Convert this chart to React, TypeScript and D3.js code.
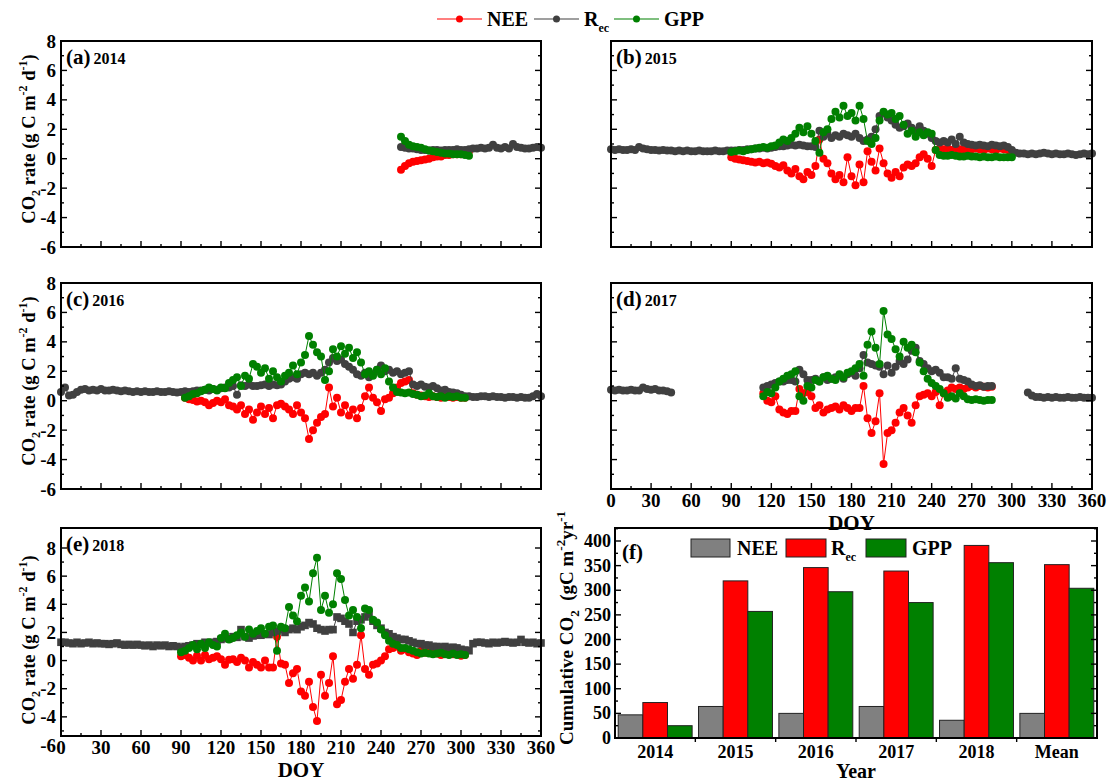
import React from 'react';
import * as d3 from 'd3';

const FONT = '"Liberation Serif", "Times New Roman", serif';
const RED = '#ff0000';
const GRAY = '#404040';
const GREEN = '#008000';
const STEP = 3; // days between plotted points

// ---- daily CO2 rates, one value every 3 DOY from the start DOY (null = no data)
const rec2014Start = 255;
const rec2014 = [
  0.8, 0.75, 0.7, 0.7, 0.65, 0.6, 0.6, 0.55, 0.6, 0.6,
  0.55, 0.6, 0.6, 0.6, 0.65, 0.6, 0.6, 0.65, 0.7, 0.7,
  0.75, 0.7, 0.75, 0.95, 0.75, 0.7, 0.8, 0.7, 1.0, 0.8,
  0.75, 0.7, 0.7, 0.75, 0.8, 0.75,
];
const gpp2014Start = 255;
const gpp2014 = [1.5, 1.2, 0.95, 0.85, 0.8, 0.75, 0.65, 0.55, 0.5, 0.45, 0.4, 0.35, 0.35, 0.3, 0.3, 0.3, 0.25, 0.2];
const nee2014Start = 255;
const nee2014 = [-0.75, -0.5, -0.3, -0.2, -0.15, -0.1, -0.05, 0.0, 0.1, 0.15, 0.15, 0.25, 0.25, 0.3, 0.3, 0.3, 0.35, 0.5];

const rec2015Start = 0;
const rec2015 = [
  0.65, 0.6, 0.65, 0.6, 0.6, 0.65, 0.6, 0.8, 0.7, 0.65,
  0.6, 0.6, 0.55, 0.6, 0.55, 0.55, 0.5, 0.55, 0.5, 0.55,
  0.5, 0.5, 0.55, 0.5, 0.5, 0.5, 0.55, 0.5, 0.5, 0.55,
  0.55, 0.55, 0.6, 0.6, 0.65, 0.65, 0.7, 0.7, 0.75, 0.7,
  0.75, 0.8, 0.85, 0.85, 0.9, 0.95, 0.9, 0.95, 0.9, 0.85,
  0.85, 0.8, 1.9, 1.5, 1.7, 1.4, 1.6, 1.5, 1.7, 1.6,
  1.5, 1.7, 1.4, 1.2, 1.3, 1.5, 2.0, 2.9, 3.1, 2.8,
  2.6, 2.3, 2.1, 2.2, 2.4, 2.1, 1.9, 2.2, 1.9, 1.7,
  1.4, 1.2, 1.1, 1.2, 1.1, 1.3, 1.0, 1.5, 1.1, 1.0,
  0.95, 0.9, 0.95, 0.9, 0.85, 0.95, 0.9, 0.85, 0.9, 0.8,
  0.6, 0.4, 0.35, 0.35, 0.3, 0.35, 0.3, 0.35, 0.4, 0.35,
  0.3, 0.35, 0.3, 0.3, 0.35, 0.3, 0.25, 0.3, 0.35, 0.3,
  0.35,
];
const gpp2015Start = 90;
const gpp2015 = [
  0.45, 0.5, 0.55, 0.5, 0.6, 0.65, 0.7, 0.75, 0.8, 0.75,
  0.85, 0.9, 1.1, 1.3, 1.2, 1.4, 1.7, 2.1, 1.8, 2.2,
  1.7, 1.2, 0.4, 1.8, 2.0, 2.7, 3.2, 2.8, 3.6, 2.9,
  3.1, 2.6, 3.6, 2.7, 1.2, 1.0, 1.4, 2.6, 3.2, 3.0,
  3.1, 2.7, 2.9, 2.3, 1.7, 1.9, 1.5, 1.8, 1.6, 1.8,
  1.7, 0.6, 0.25, 0.2, 0.2, 0.25, 0.2, 0.15, 0.15, 0.2,
  0.15, 0.15, 0.1, 0.15, 0.1, 0.1, 0.15, 0.1, 0.1, 0.1,
  0.1,
];
const nee2015Start = 90;
const nee2015 = [
  0.1, 0.0, -0.05, -0.1, -0.15, -0.2, -0.25, -0.2, -0.3, -0.25,
  -0.35, -0.5, -0.6, -0.45, -0.8, -1.0, -0.7, -1.2, -1.4, -0.9,
  -1.1, -0.5, 1.3, 0.0, -0.3, -1.0, -1.4, -1.1, -1.6, 0.1,
  -1.2, -1.8, -0.4, -1.6, 0.5, -0.2, -0.8, 0.7, -0.3, -1.0,
  -1.3, -0.9, -1.2, -0.6, -0.4, -0.5, -0.3, 0.1, 0.3, 0.0,
  -0.5, 0.6, 0.7, 0.65, 0.7, 0.6, 0.7, 0.65, 0.6, 0.7,
  0.65, 0.7, 0.65, 0.6, 0.7, 0.65, 0.6, 0.7, 0.65, 0.6,
  0.45,
];

const rec2016Start = 0;
const rec2016 = [
  0.6, 0.9, 0.35, 0.4, 0.6, 0.75, 0.8, 0.7, 0.75, 0.7,
  0.8, 0.7, 0.7, 0.75, 0.7, 0.65, 0.7, 0.65, 0.6, 0.65,
  0.6, 0.65, 0.6, 0.6, 0.65, 0.6, 0.6, 0.65, 0.6, 0.55,
  0.6, 0.65, 0.6, 0.65, 0.7, 0.7, 0.75, 0.7, 0.8, 0.75,
  0.85, 0.9, 0.9, 1.0, 0.4, 1.05, 1.0, 1.1, 1.0, 1.0,
  1.05, 1.1, 1.0, 1.1, 1.05, 1.1, 1.3, 1.5, 1.6, 1.5,
  1.8, 1.9, 1.8, 1.9, 1.7, 1.9, 2.1, 2.6, 2.9, 2.7,
  2.8, 2.5, 2.3, 2.1, 1.8, 1.7, 1.9, 1.6, 1.8, 2.1,
  2.4, 2.0, 2.1, 1.9, 2.0, 1.8, 1.9, 2.0, 1.1, 1.0,
  1.1, 0.95, 0.9, 1.0, 0.85, 0.7, 0.75, 0.6, 0.55, 0.5,
  0.4, 0.3, 0.3, 0.25, 0.25, 0.3, 0.3, 0.25, 0.3, 0.25,
  0.25, 0.2, 0.25, 0.25, 0.2, 0.25, 0.2, 0.2, 0.3, 0.45,
  0.3,
];
const gpp2016Start = 93;
const gpp2016 = [
  0.2, 0.3, 0.45, 0.5, 0.65, 0.75, 0.9, 0.8, 0.7,
  0.9, 0.85, 1.2, 1.4, 1.6, 1.0, 1.7, 1.5, 2.5, 2.3,
  1.9, 2.2, 1.5, 2.0, 1.6, 1.3, 1.7, 1.9, 2.4, 1.8,
  2.6, 3.1, 4.4, 3.8, 3.3, 3.0, 1.4, 2.0, 3.5, 3.0,
  3.7, 3.2, 3.6, 2.9, 3.3, 2.6, 1.8, 2.0, 1.7, 2.1,
  1.8, 2.2, 1.3, 0.9, 0.6, 0.55, 0.5, 0.55, 0.45, 0.4,
  0.3, 0.35, 0.5, 0.3, 0.25, 0.3, 0.2, 0.3, 0.25, 0.3,
  0.2, 0.2,
];
const nee2016Start = 93;
const nee2016 = [
  0.2, 0.1, 0.05, -0.05, 0.0, -0.1, -0.3, -0.15, 0.0,
  -0.1, 0.1, -0.3, -0.4, -0.6, -0.3, -0.9, -0.6, -1.3, -0.8,
  -0.4, -0.9, -0.5, -1.2, -0.3, -0.2, -0.4, -0.6, -0.9, -0.3,
  -0.8, -1.2, -2.6, -2.0, -1.5, -1.1, -0.9, 0.9, -0.4, 0.2,
  -0.8, -0.3, -1.0, -0.6, -1.2, -0.5, 0.3, 0.9, 0.2, -0.1,
  -0.7, 0.1, 0.2, 0.5, 0.9, 1.2, 1.3, 1.4, 0.5, 0.4,
  0.35, 0.3, 0.25, 0.3, 0.25, 0.2, 0.3, 0.25, 0.2, 0.25,
  0.2, 0.2,
];

const rec2017Start = 0;
const rec2017 = [
  0.75, 0.7, 0.75, 0.7, 0.7, 0.75, 0.7, 0.7, 0.9, 0.8,
  0.75, 0.8, 0.7, 0.7, 0.65, 0.55, null, null, null, null,
  null, null, null, null, null, null, null, null, null, null,
  null, null, null, null, null, null, null, null, 0.9, 1.0,
  1.1, 1.2, 1.3, 1.3, 1.4, 1.4, 1.3, 2.1, 1.8, 1.4,
  1.4, 1.5, 1.3, 1.6, 1.4, 1.5, 1.6, 1.7, 1.5, 1.8,
  1.9, 1.7, 2.2, 3.1, 2.6, 2.5, 2.4, 2.3, 1.8, 2.4,
  1.9, 2.3, 2.7, 2.5, 2.8, 3.4, 3.6, 2.7, 2.5, 2.2,
  2.0, 2.1, 1.9, 1.6, 1.6, 1.5, 2.2, 1.5, 1.4, 1.3,
  1.1, 1.0, 1.05, 0.95, 1.0, 1.0, null, null, null, null,
  null, null, null, null, 0.55, 0.35, 0.25, 0.25, 0.2, 0.25,
  0.2, 0.25, 0.2, 0.2, 0.25, 0.2, 0.2, 0.25, 0.2, 0.2,
  0.2,
];
const gpp2017Start = 114;
const gpp2017 = [
  0.3, 0.6,
  0.5, 0.9, 1.3, 1.5, 1.7, 1.8, 2.0, 0.3, 0.0, 1.0,
  0.9, 1.4, 1.3, 1.6, 1.7, 1.5, 1.4, 1.8, 1.6, 1.9,
  2.0, 2.2, 2.5, 1.7, 3.8, 4.7, 3.6, 2.5, 6.1, 4.5,
  4.2, 3.5, 3.0, 4.0, 3.6, 3.8, 3.3, 2.6, 2.0, 1.5,
  1.2, 1.0, 0.8, 0.5, 0.2, 0.3, 0.15, 0.5, 0.3, 0.1,
  0.05, 0.1, 0.05, 0.0, 0.05, 0.05,
];
const nee2017Start = 114;
const nee2017 = [
  0.5, 0.0,
  -0.1, 0.3, -0.6, -0.8, -0.9, -0.7, -0.7, 0.8, 0.5, 0.6,
  0.3, -0.5, -0.3, -0.8, -0.6, -0.5, -0.4, -0.6, -0.3, -0.5,
  -0.7, -0.5, -0.5, 1.0, -1.2, -2.2, -1.4, 0.5, -4.3, -2.2,
  -2.0, -1.5, -0.8, -0.5, -1.0, -1.5, -0.3, 0.3, 0.4, 0.5,
  0.3, 0.6, -0.3, 0.5, 0.7, 0.9, 0.8, 0.9, 0.8, 0.9,
  1.0, 0.9, 1.0, 0.95, 0.9, 0.95,
];

const rec2018Start = 0;
const rec2018 = [
  1.3, 1.3, 1.25, 1.2, 1.3, 1.2, 1.25, 1.3, 1.2, 1.25,
  1.2, 1.2, 1.15, 1.2, 1.25, 1.15, 1.1, 1.15, 1.1, 1.15,
  1.1, 1.05, 1.1, 1.0, 1.1, 1.05, 1.1, 1.0, 1.05, 1.0,
  0.9, 1.0, 1.05, 1.1, 1.2, 1.15, 1.3, 1.25, 1.3, 1.35,
  1.5, 1.6, 1.55, 1.7, 1.65, 2.2, 1.7, 1.6, 1.75, 1.8,
  1.8, 1.9, 1.85, 2.0, 2.1, 2.2, 2.0, 2.2, 2.3, 2.2,
  2.4, 2.5, 2.7, 2.6, 2.3, 2.2, 2.1, 2.2, 2.2, 3.1,
  3.0, 2.8, 2.6, 2.0, 2.8, 2.9, 3.1, 3.3, 2.8, 2.5,
  2.3, 2.0, 1.9, 1.7, 1.6, 1.5, 1.5, 1.4, 1.3, 1.2,
  1.2, 1.1, 1.1, 1.0, 1.0, 0.95, 1.0, 0.9, 0.95, 0.9,
  0.8, 0.75, 0.7, 1.2, 1.3, 1.3, 1.25, 1.2, 1.3, 1.25,
  1.3, 1.35, 1.3, 1.25, 1.3, 1.5, 1.3, 1.25, 1.3, 1.2,
  1.25,
];
const gpp2018Start = 90;
const gpp2018 = [
  0.6, 0.7, 0.9, 1.1, 0.8, 1.2, 0.9, 1.3, 1.1, 1.0,
  1.6, 1.9, 1.5, 1.6, 1.8, 2.0, 1.7, 2.2, 1.9, 2.1,
  2.3, 1.9, 2.4, 2.5, 0.7, 2.4, 2.3, 3.8, 3.2, 2.8,
  4.6, 5.2, 4.2, 6.2, 7.3, 3.6, 4.6, 3.4, 4.0, 6.2,
  5.8, 4.3, 3.2, 3.6, 3.1, 2.3, 3.7, 3.6, 2.9, 2.7,
  2.2, 1.8, 1.4, 1.2, 1.1, 0.9, 0.9, 0.8, 0.7, 0.6,
  0.5, 0.55, 0.5, 0.45, 0.5, 0.55, 0.45, 0.4, 0.5, 0.4,
  0.45, 0.4,
];
const nee2018Start = 90;
const nee2018 = [
  0.3, 0.4, 0.2, 0.0, 0.35, 0.0, 0.4, 0.1, 0.2, 0.3,
  0.1, -0.3, 0.05, 0.1, -0.1, 0.2, 0.0, -0.5, -0.1, -0.3,
  -0.5, 0.0, -0.5, -0.5, 1.7, -0.2, -0.3, -1.6, -0.9, -0.6,
  -2.2, -2.5, -1.5, -3.3, -4.3, -1.0, -2.5, -1.6, 0.3, -3.1,
  -2.8, -1.5, -0.6, -1.3, -0.3, 1.8, -0.6, -1.0, -0.3, -0.2,
  0.0, 0.3, 0.8, 0.9, 1.0, 0.7, 0.8, 0.6, 0.5, 0.4,
  0.7, 0.55, 0.6, 0.55, 0.5, 0.4, 0.55, 0.5, 0.45, 0.5,
  0.35, 0.4,
];

// ---- cumulative annual CO2 (gC m-2 yr-1)
const yearCats = ['2014', '2015', '2016', '2017', '2018', 'Mean'];
const cumNEE = [47, 64, 50, 64, 36, 50];
const cumRec = [72, 319, 346, 339, 391, 352];
const cumGPP = [25, 257, 297, 275, 356, 304];

const rateTicks = [-6, -4, -2, 0, 2, 4, 6, 8];
const doyTicks = [0, 30, 60, 90, 120, 150, 180, 210, 240, 270, 300, 330, 360];
const cumTicks = [0, 50, 100, 150, 200, 250, 300, 350, 400];

type Pt = { doy: number; v: number | null };
const toPts = (start: number, vals: (number | null)[]): Pt[] =>
  vals.map((v, i) => ({ doy: start + i * STEP, v }));

const panels = [
  { id: 'a', year: '2014', box: [61, 541, 41, 247], yr: [247, 41], yLab: true, xLab: false, titleY: 139,
    nee: toPts(nee2014Start, nee2014), rec: toPts(rec2014Start, rec2014), gpp: toPts(gpp2014Start, gpp2014) },
  { id: 'b', year: '2015', box: [611, 1092, 41, 247], yr: [247, 41], yLab: false, xLab: false,
    nee: toPts(nee2015Start, nee2015), rec: toPts(rec2015Start, rec2015), gpp: toPts(gpp2015Start, gpp2015) },
  { id: 'c', year: '2016', box: [61, 541, 283, 489], yr: [489, 283], yLab: true, xLab: false, titleY: 381,
    nee: toPts(nee2016Start, nee2016), rec: toPts(rec2016Start, rec2016), gpp: toPts(gpp2016Start, gpp2016) },
  { id: 'd', year: '2017', box: [611, 1092, 283, 489], yr: [489, 283], yLab: false, xLab: true,
    nee: toPts(nee2017Start, nee2017), rec: toPts(rec2017Start, rec2017), gpp: toPts(gpp2017Start, gpp2017) },
  { id: 'e', year: '2018', box: [61, 541, 528, 736], yr: [745, 548], yLab: true, xLab: true, square: true, titleY: 640,
    nee: toPts(nee2018Start, nee2018), rec: toPts(rec2018Start, rec2018), gpp: toPts(gpp2018Start, gpp2018) },
];

const RateTitle = ({ x, y }: { x: number; y: number }) => (
  <text transform={`translate(${x},${y}) rotate(-90)`} textAnchor="middle" fontFamily={FONT}
    fontWeight="bold" fontSize={18.5}>
    CO<tspan fontSize={12} dy={5}>2</tspan>
    <tspan dy={-5}> rate (g C m</tspan>
    <tspan fontSize={12} dy={-8}>-2</tspan>
    <tspan dy={8}> d</tspan>
    <tspan fontSize={12} dy={-8}>-1</tspan>
    <tspan dy={8}>)</tspan>
  </text>
);

function Series({ pts, x, y, color, square }: any) {
  const line = d3.line<Pt>().defined(d => d.v !== null).x(d => x(d.doy)).y(d => y(d.v as number));
  const valid = pts.filter((d: Pt) => d.v !== null);
  return (
    <g>
      <path d={line(pts) || ''} fill="none" stroke={color} strokeWidth={1} />
      {valid.map((d: Pt, i: number) =>
        square ? (
          <rect key={i} x={x(d.doy) - 3.8} y={y(d.v as number) - 3.8} width={7.6} height={7.6} fill={color} />
        ) : (
          <circle key={i} cx={x(d.doy)} cy={y(d.v as number)} r={4} fill={color} />
        )
      )}
    </g>
  );
}

function RatePanel({ p }: any) {
  const [x0, x1, y0, y1] = p.box;
  const x = d3.scaleLinear().domain([0, 360]).range([x0, x1]);
  const y = d3.scaleLinear().domain([-6, 8]).range(p.yr);
  const inY = (v: number) => y(v) >= y0 - 0.5 && y(v) <= y1 + 0.5;
  const minorY = rateTicks.slice(0, -1).map(t => t + 1);
  const minorX = doyTicks.slice(0, -1).map(t => t + 15);
  return (
    <g>
      <Series pts={p.nee} x={x} y={y} color={RED} />
      <Series pts={p.rec} x={x} y={y} color={GRAY} square={p.square} />
      <Series pts={p.gpp} x={x} y={y} color={GREEN} />
      <rect x={x0} y={y0} width={x1 - x0} height={y1 - y0} fill="none" stroke="#000" strokeWidth={2} />
      <g stroke="#000" strokeWidth={1.4}>
        {rateTicks.filter(inY).map(t => (
          <g key={t}>
            <line x1={x0} x2={x0 + 6} y1={y(t)} y2={y(t)} />
            <line x1={x1} x2={x1 - 6} y1={y(t)} y2={y(t)} />
          </g>
        ))}
        {minorY.filter(inY).map(t => (
          <g key={t}>
            <line x1={x0} x2={x0 + 3} y1={y(t)} y2={y(t)} />
            <line x1={x1} x2={x1 - 3} y1={y(t)} y2={y(t)} />
          </g>
        ))}
        {doyTicks.map(t => <line key={t} x1={x(t)} x2={x(t)} y1={y1} y2={y1 - 6} />)}
        {minorX.map(t => <line key={t} x1={x(t)} x2={x(t)} y1={y1} y2={y1 - 3} />)}
      </g>
      {p.yLab && rateTicks.map(t => (
        <text key={t} x={x0 - 5} y={y(t)} textAnchor="end" dominantBaseline="central" fontFamily={FONT}
          fontWeight="bold" fontSize={19}>{t}</text>
      ))}
      {p.xLab && doyTicks.map(t => (
        <text key={t} x={x(t)} y={y1 + 18} textAnchor="middle" fontFamily={FONT} fontWeight="bold" fontSize={19}>{t}</text>
      ))}
      {p.xLab && (
        <text x={(x0 + x1) / 2} y={y1 + 41} textAnchor="middle" fontFamily={FONT} fontWeight="bold" fontSize={21}>DOY</text>
      )}
      <text x={x0 + 5} y={y0 + 23} fontFamily={FONT} fontWeight="bold">
        <tspan fontSize={21}>({p.id})</tspan>
        <tspan fontSize={16} dx={3}>{p.year}</tspan>
      </text>
      {p.yLab && <RateTitle x={35} y={p.titleY} />}
    </g>
  );
}

function BarPanel() {
  const x0 = 615, x1 = 1097, y0 = 528, y1 = 738;
  const x = d3.scaleBand().domain(yearCats).range([x0, x1]);
  const sub = d3.scaleBand().domain(['NEE', 'Rec', 'GPP']).range([0, x.bandwidth()]).paddingOuter(0.13);
  const y = d3.scaleLinear().domain([0, 400]).range([y1, 541]);
  const groups = [
    { key: 'NEE', vals: cumNEE, color: '#808080' },
    { key: 'Rec', vals: cumRec, color: RED },
    { key: 'GPP', vals: cumGPP, color: GREEN },
  ];
  const minor = cumTicks.slice(0, -1).map(t => t + 25).concat([425]);
  return (
    <g>
      {groups.map(g => yearCats.map((c, i) => (
        <rect key={g.key + c} x={(x(c) as number) + (sub(g.key) as number)} y={y(g.vals[i])}
          width={sub.bandwidth()} height={y1 - y(g.vals[i])} fill={g.color} stroke="#222" strokeWidth={1} />
      )))}
      <rect x={x0} y={y0} width={x1 - x0} height={y1 - y0} fill="none" stroke="#000" strokeWidth={2} />
      <g stroke="#000" strokeWidth={1.4}>
        {cumTicks.map(t => (
          <g key={t}>
            <line x1={x0} x2={x0 + 6} y1={y(t)} y2={y(t)} />
            <line x1={x1} x2={x1 - 6} y1={y(t)} y2={y(t)} />
          </g>
        ))}
        {minor.filter(t => y(t) >= y0).map(t => (
          <g key={t}>
            <line x1={x0} x2={x0 + 3} y1={y(t)} y2={y(t)} />
            <line x1={x1} x2={x1 - 3} y1={y(t)} y2={y(t)} />
          </g>
        ))}
        {yearCats.slice(1).map(c => (
          <line key={c} x1={x(c)} x2={x(c)} y1={y1} y2={y1 + 4} />
        ))}
      </g>
      {cumTicks.map(t => (
        <text key={t} x={x0 - 4} y={y(t)} textAnchor="end" dominantBaseline="central" fontFamily={FONT}
          fontWeight="bold" fontSize={18}>{t}</text>
      ))}
      {yearCats.map(c => (
        <text key={c} x={(x(c) as number) + x.bandwidth() / 2} y={y1 + 20} textAnchor="middle" fontFamily={FONT}
          fontWeight="bold" fontSize={18}>{c}</text>
      ))}
      <text x={(x0 + x1) / 2} y={y1 + 40} textAnchor="middle" fontFamily={FONT} fontWeight="bold" fontSize={20}>Year</text>
      <text x={x0 + 7} y={y0 + 31} fontFamily={FONT} fontWeight="bold" fontSize={21}>(f)</text>
      {/* legend */}
      <g fontFamily={FONT} fontWeight="bold" fontSize={20}>
        <rect x={691} y={539} width={39} height={18} fill="#808080" stroke="#222" strokeWidth={1} />
        <text x={737} y={555}>NEE</text>
        <rect x={786} y={539} width={40} height={18} fill={RED} stroke="#222" strokeWidth={1} />
        <text x={831} y={555}>R<tspan fontSize={12} dy={6}>ec</tspan></text>
        <rect x={866} y={539} width={40} height={18} fill={GREEN} stroke="#222" strokeWidth={1} />
        <text x={912} y={555}>GPP</text>
      </g>
      <text transform={`translate(573,628) rotate(-90)`} textAnchor="middle" fontFamily={FONT} fontWeight="bold" fontSize={19}>
        Cumulative CO<tspan fontSize={13} dy={6}>2</tspan>
        <tspan dy={-6}>{'\u00a0\u00a0(gC m'}</tspan>
        <tspan fontSize={13} dy={-8}>-2</tspan>
        <tspan dy={8}>yr</tspan>
        <tspan fontSize={13} dy={-8}>-1</tspan>
      </text>
    </g>
  );
}

function TopLegend() {
  const items = [
    { key: 'NEE', color: RED, x: 437 },
    { key: 'R', sub: 'ec', color: GRAY, x: 534 },
    { key: 'GPP', color: GREEN, x: 614 },
  ];
  return (
    <g fontFamily={FONT} fontWeight="bold" fontSize={20}>
      {items.map(it => (
        <g key={it.key}>
          <line x1={it.x} x2={it.x + 45} y1={19} y2={19} stroke={it.color} strokeWidth={1.2} />
          <circle cx={it.x + 22.5} cy={19} r={3.5} fill={it.color} />
          <text x={it.x + 50} y={26}>
            {it.key}
            {it.sub && <tspan fontSize={12} dy={6}>{it.sub}</tspan>}
          </text>
        </g>
      ))}
    </g>
  );
}

export default function App() {
  return (
    <svg width={1108} height={783} style={{ position: 'absolute', left: 0, top: 0, background: '#fff' }}>
      <rect width={1108} height={783} fill="#fff" />
      <TopLegend />
      {panels.map(p => <RatePanel key={p.id} p={p} />)}
      <BarPanel />
    </svg>
  );
}
